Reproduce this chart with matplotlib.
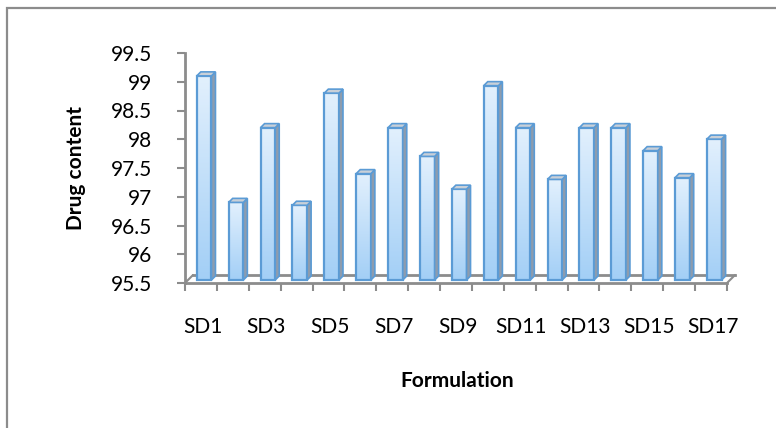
import numpy as np
import matplotlib.pyplot as plt
from matplotlib.patches import Rectangle, Polygon
from matplotlib.transforms import ScaledTranslation
from matplotlib.colors import LinearSegmentedColormap

plt.rcParams['font.family'] = ['Lato', 'DejaVu Sans']

# Drug content per formulation
formulations = ['SD%d' % i for i in range(1, 18)]
drug_content = [99.05, 96.85, 98.15, 96.8, 98.75, 97.35, 98.15, 97.65, 97.08,
                98.88, 98.15, 97.25, 98.15, 98.15, 97.75, 97.28, 97.95]
y_ticks = [95.5, 96, 96.5, 97, 97.5, 98, 98.5, 99, 99.5]

W, H, DPI = 776, 428, 100
fig = plt.figure(figsize=(W / DPI, H / DPI), dpi=DPI)

# outer chart frame (only left and top edges fall inside the image)
fig.patches.append(Rectangle((7 / W, -0.05), 1.0, 1.05 - 8 / H,
                             transform=fig.transFigure, fill=False,
                             edgecolor='#8c8c8c', linewidth=1.6))

left, right, bottom, top = 185, 727, 283, 53
ax = fig.add_axes([left / W, 1 - bottom / H, (right - left) / W, (bottom - top) / H])
ax.set_xlim(0, len(formulations))
ax.set_ylim(95.5, 99.5)
ax.patch.set_alpha(0)
for s in ['top', 'right', 'bottom']:
    ax.spines[s].set_visible(False)
ax.spines['left'].set_color('#8c8c8c')
ax.spines['left'].set_linewidth(2)

ax.set_yticks(y_ticks)
ax.set_yticklabels(['%g' % v for v in y_ticks], fontsize=15)
ax.tick_params(axis='y', length=6, width=1.5, color='#8c8c8c', pad=18)

# category ticks on the cell boundaries, labels on every other bar
ax.set_xticks(np.arange(len(formulations) + 1))
ax.set_xticklabels([])
ax.tick_params(axis='x', length=6, width=1.5, color='#8c8c8c', direction='out')
lab_tr = ax.get_xaxis_transform() + ScaledTranslation(0, -44 / DPI, fig.dpi_scale_trans)
for i, name in enumerate(formulations):
    if i % 2 == 0:
        ax.text(i + 0.55, 0, name, transform=lab_tr,
                ha='center', va='center', fontsize=15)

fig.text(76 / W, 1 - 168 / H, 'Drug content', rotation=90, ha='center', va='center',
         fontsize=15, fontweight='bold')
fig.text(457 / W, 1 - 381 / H, 'Formulation', ha='center', va='center',
         fontsize=15, fontweight='bold')

def shift(dx, dy):
    return ax.transData + ScaledTranslation(dx / DPI, dy / DPI, fig.dpi_scale_trans)

# floor of the 3d plot
n = len(formulations)
fd = 8
ax.plot([0, n], [95.5, 95.5], color='#8c8c8c', lw=2, clip_on=False)
ax.plot([0, n], [95.5, 95.5], color='#8c8c8c', lw=2, clip_on=False, transform=shift(fd, fd))
for xe in [0, n]:
    ax.annotate('', xy=(xe, 95.5), xytext=(fd, fd), textcoords='offset pixels',
                xycoords='data', annotation_clip=False,
                arrowprops=dict(arrowstyle='-', color='#8c8c8c', lw=1.5,
                                shrinkA=0, shrinkB=0))

grad = LinearSegmentedColormap.from_list('bar', ['#a3cff6', '#e2f0fd'])
gimg = np.linspace(0, 1, 100).reshape(-1, 1)
edge = '#5b9bd5'
d = 4
lift = 3
x0, x1 = 0.37, 0.83
for i, v in enumerate(drug_content):
    xa, xb = i + x0, i + x1
    base = shift(0, lift)
    back = shift(d, lift + d)
    # side face
    pts = base.transform([(xb, 95.5), (xb, v)])
    pts_b = back.transform([(xb, v), (xb, 95.5)])
    fig.patches.append(Polygon(np.vstack([pts, pts_b]), closed=True, transform=None,
                               facecolor='#8d9cae', edgecolor=edge, lw=1.2, clip_on=False))
    # top face
    tp = np.vstack([base.transform([(xa, v), (xb, v)]), back.transform([(xb, v), (xa, v)])])
    fig.patches.append(Polygon(tp, closed=True, transform=None, facecolor='#c9d0d8',
                               edgecolor=edge, lw=1.2, clip_on=False))
    # front face with gradient fill
    front = Rectangle((xa, 95.5), xb - xa, v - 95.5, transform=base,
                      facecolor='none', edgecolor=edge, lw=1.6, zorder=4, clip_on=False)
    im = ax.imshow(gimg, cmap=grad, aspect='auto', extent=(xa, xb, 95.5, v),
                   origin='lower', transform=base, zorder=3, clip_on=True)
    ax.add_patch(front)
    im.set_clip_path(front)

ax.set_xlim(0, n)
ax.set_ylim(95.5, 99.5)

fig.savefig('out.png', dpi=DPI)
